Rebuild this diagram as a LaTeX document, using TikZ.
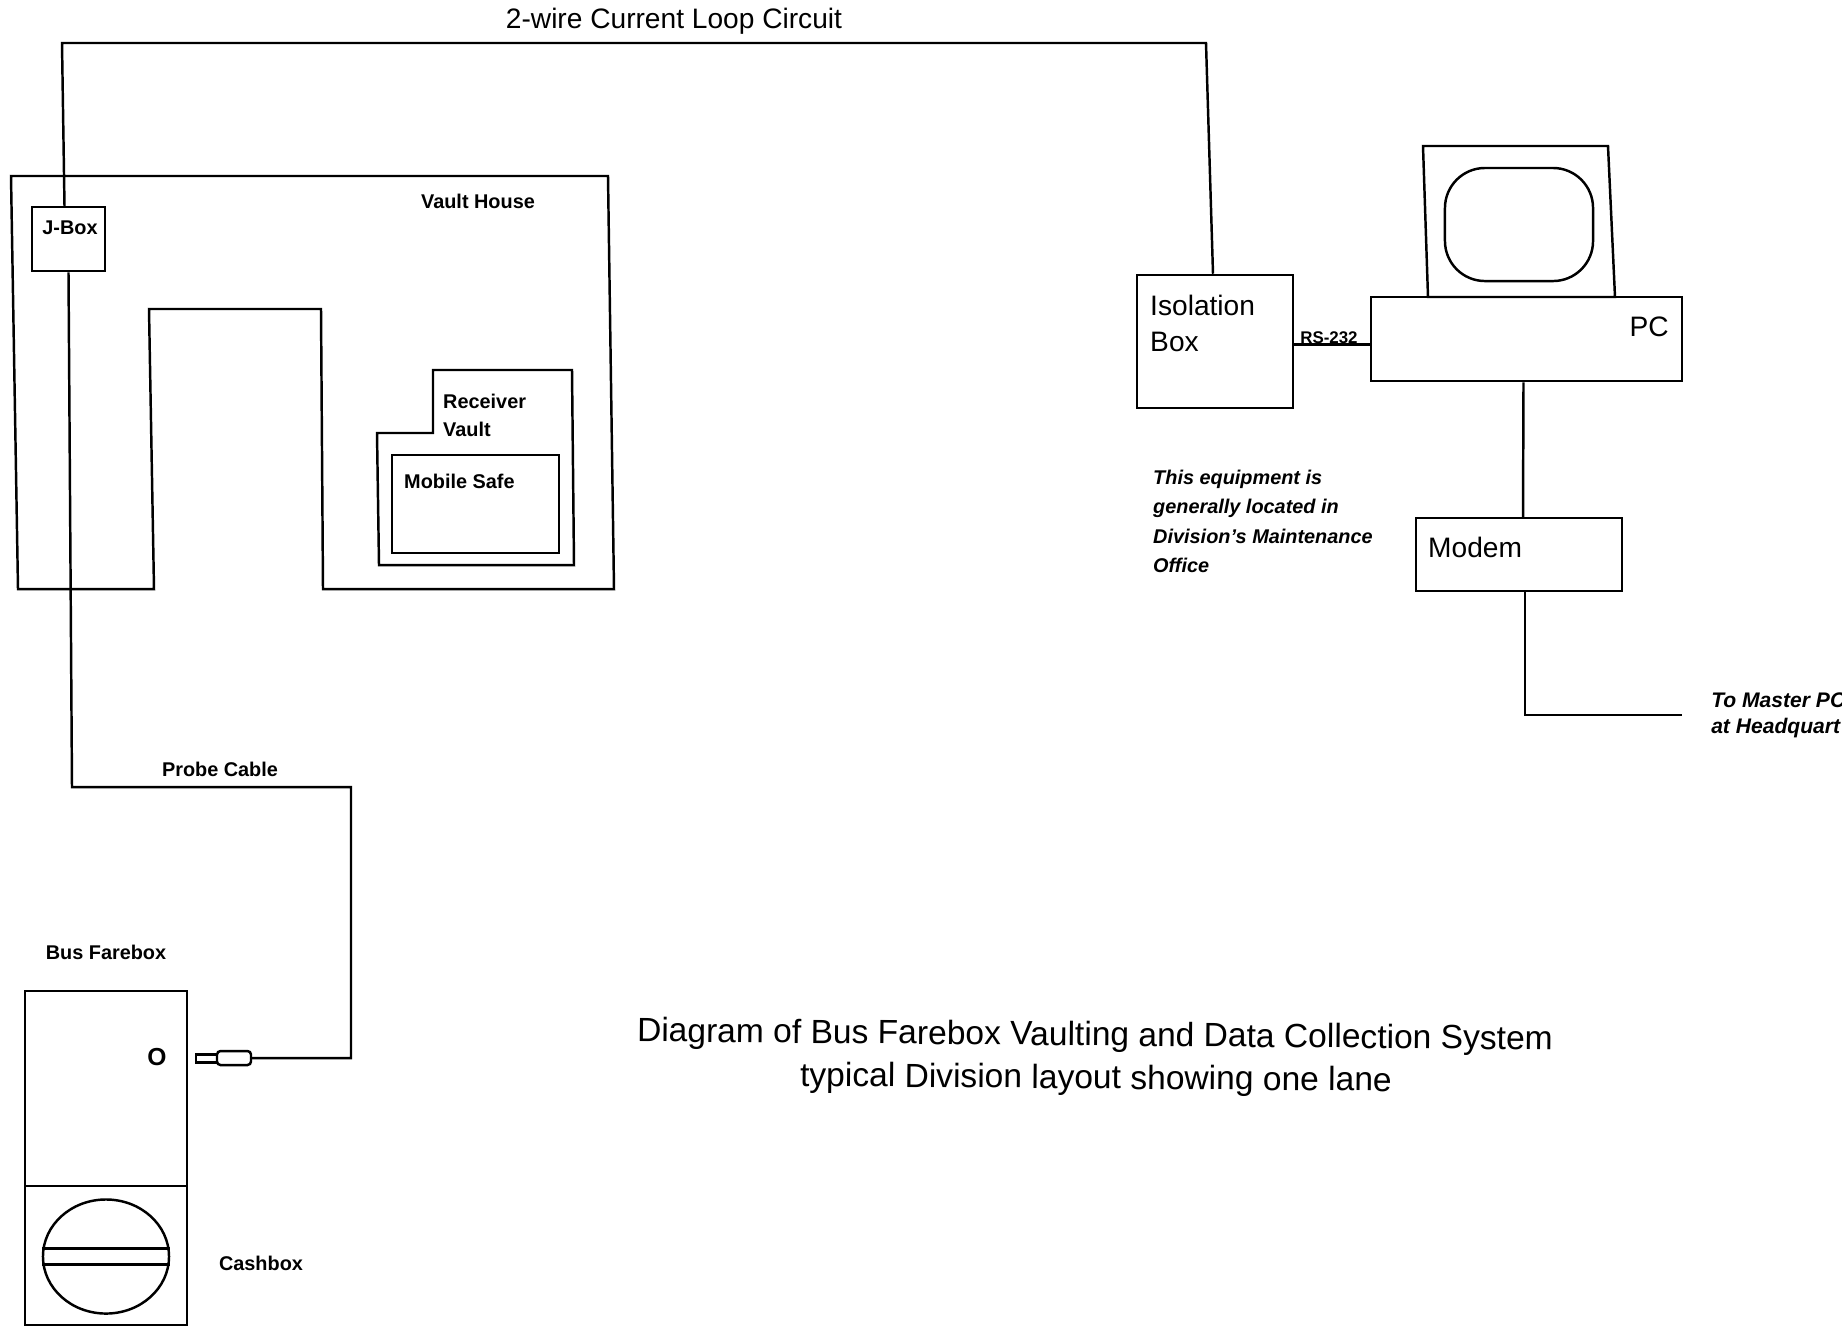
\documentclass[tikz,border=0pt]{standalone}
\usepackage{fontspec}
\setmainfont{Liberation Sans}
\usetikzlibrary{positioning,shapes.geometric}

\begin{document}
\begin{tikzpicture}[
      x=0.01cm, y=-0.01cm, line width=0.7pt,
      box/.style={draw, inner sep=0pt},
      smalltxt/.style={font=\fontsize{5.65}{7}\selectfont\bfseries, inner sep=0pt},
      bigtxt/.style={font=\fontsize{8}{9}\selectfont, inner sep=0pt, anchor=west},
      notetxt/.style={font=\fontsize{5.65}{7}\selectfont\bfseries\itshape, inner sep=0pt, anchor=west},
      hqtxt/.style={font=\fontsize{6}{7}\selectfont\bfseries\itshape, inner sep=0pt, anchor=west},
      titletxt/.style={font=\fontsize{9.55}{11}\selectfont, inner sep=0pt}
    ]
    \useasboundingbox (0,0) rectangle (1842,1326);
    % vault house
    \draw (11,176) -- (608,176) -- (614,589) -- (323,589) -- (321,309) -- (149,309) -- (154,589) -- (18,589) -- cycle;
    \draw (433,370) -- (572,370) -- (574,565) -- (379,565) -- (377,433) -- (433,433) -- cycle;
    \node[box, minimum width=1.67cm, minimum height=0.98cm] (safe) at (475.5,504) {};
    \node[box, fill=white, minimum width=0.73cm, minimum height=0.64cm] (jbox) at (68.5,239) {};
    \node[smalltxt] (jboxtxt) at (70,228) {J-Box};
    \node[smalltxt] (housetxt) at (478,201) {Vault House};
    \node[smalltxt, anchor=west] (vaulttxt) at (442,401) {Receiver};
    \node[smalltxt, anchor=west] (vaulttxtb) at (442,429) {Vault};
    \node[smalltxt, anchor=west] (safetxt) at (403,481) {Mobile Safe};
    % office equipment
    \node[box, minimum width=1.56cm, minimum height=1.33cm] (isobox) at (1215,341.5) {};
    \node[box, minimum width=3.11cm, minimum height=0.84cm] (pc) at (1526.5,339) {};
    \node[box, minimum width=2.06cm, minimum height=0.73cm] (modem) at (1519,554.5) {};
    \draw (1423,146) -- (1608,146) -- (1615,297) -- (1428,297) -- cycle;
    \node[box, rounded corners=0.4cm, minimum width=1.48cm, minimum height=1.13cm] (screen) at (1519,224.5) {};
    \node[bigtxt] (isotxt) at (1149,305) {Isolation};
    \node[bigtxt] (isotxtb) at (1149,342) {Box};
    \node[bigtxt, anchor=east] (pctxt) at (1670,327) {PC};
    \node[bigtxt] (modemtxt) at (1427,547) {Modem};
    \node[smalltxt, font=\fontsize{4.8}{6}\selectfont\bfseries] (rstxt) at (1329,338) {RS-232};
    \node[notetxt] (notea) at (1152,479) {This equipment is};
    \node[notetxt] (noteb) at (1152,508) {generally located in};
    \node[notetxt] (notec) at (1152,536) {Division's Maintenance};
    \node[notetxt] (noted) at (1152,565) {Office};
    \node[hqtxt] (hqa) at (1710,700) {To Master PC};
    \node[hqtxt] (hqb) at (1710,728) {at Headquart};
    % bus farebox
    \node[box, minimum width=1.62cm, minimum height=1.95cm] (fareupper) at (106,1088.5) {};
    \node[box, minimum width=1.62cm, minimum height=1.39cm] (farelower) at (106,1255.5) {};
    \node[box, ellipse, minimum width=1.26cm, minimum height=1.14cm] (drum) at (106,1256.5) {};
    \draw (drum.173) -- (drum.7);
    \draw (drum.187) -- (drum.353);
    \node[box, rounded corners=1pt, minimum width=0.34cm, minimum height=0.14cm] (plug) at (234,1058) {};
    \node[box, minimum width=0.21cm, minimum height=0.08cm] (plugtip) at (206.5,1058.5) {};
    \node[smalltxt] (faretxt) at (106,952) {Bus Farebox};
    \node[smalltxt] (cashtxt) at (261,1263) {Cashbox};
    \node[smalltxt, font=\fontsize{7}{8}\selectfont\bfseries] (portmark) at (157,1057) {O};
    % wires
    \coordinate (loopleft) at (62,43);
    \coordinate (loopright) at (1206,43);
    \coordinate (probeleft) at (72,787);
    \coordinate (proberight) at (351,787);
    \coordinate (probelow) at (351,1058);
    \coordinate (hqend) at (1682,715);
    \draw ([xshift=-0.04cm]jbox.north) -- (loopleft) -- (loopright) -- ([xshift=-0.02cm]isobox.north);
    \draw (jbox.south) -- (probeleft) -- (proberight) -- (probelow) -- (plug.east);
    \draw ([yshift=-0.03cm]isobox.east) -- ([yshift=-0.03cm]isobox.east -| pc.west);
    \draw ([xshift=-0.03cm]pc.south) -- ([xshift=0.04cm]modem.north);
    \draw ([xshift=0.06cm]modem.south) |- (hqend);
    \node[smalltxt, font=\fontsize{8}{9}\selectfont] (looptxt) at (674,21) {2-wire Current Loop Circuit};
    \node[smalltxt] (probetxt) at (220,769) {Probe Cable};
    \node[titletxt, rotate=-0.5] (titlea) at (1095,1037) {Diagram of Bus Farebox Vaulting and Data Collection System};
    \node[titletxt, rotate=-0.5] (titleb) at (1096,1080) {typical Division layout showing one lane};
  \end{tikzpicture}
\end{document}
